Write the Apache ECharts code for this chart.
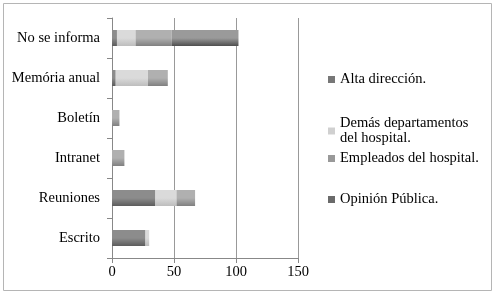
<!DOCTYPE html>
<html><head><meta charset="utf-8">
<script src="https://cdn.jsdelivr.net/npm/echarts@6/dist/echarts.min.js"></script>
<style>html,body{margin:0;padding:0;background:#fff}#c{width:496px;height:295px}</style>
</head><body><div id="c"></div>
<script>
var categories = ['No se informa','Memória anual','Boletín','Intranet','Reuniones','Escrito'];
var seriesNames = ['Alta dirección.','Demás departamentos del hospital.','Empleados del hospital.','Opinión Pública.'];
var altaDireccion = [4, 3, 0, 0, 35, 27];
var demasDepartamentos = [15, 26, 0, 0, 17, 3];
var empleados = [29, 16, 6, 10, 15, 0];
var opinionPublica = [54, 0, 0, 0, 0, 0];
var xTicks = {min: 0, max: 150, interval: 50};

var FONT = 'Liberation Serif';
function grad(a, b) {
  return new echarts.graphic.LinearGradient(0, 0, 0, 1, [{offset: 0, color: a}, {offset: 0.5, color: a}, {offset: 1, color: b}]);
}
var colors = [grad('#8c8c8c', '#5c5c5c'), grad('#dadada', '#bdbdbd'), grad('#b0b0b0', '#808080'), grad('#9a9a9a', '#4e4e4e')];
var legendColors = ['#777', '#d0d0d0', '#999', '#6a6a6a'];
var allData = [altaDireccion, demasDepartamentos, empleados, opinionPublica];
var legendTops = [67, 111, 146, 187];
var legendLabels = ['Alta dirección.', 'Demás departamentos\ndel hospital.', 'Empleados del hospital.', 'Opinión Pública.'];

var chart = echarts.init(document.getElementById('c'), null, {renderer: 'canvas'});
var series = seriesNames.map(function (n, i) {
  return {
    name: n, type: 'bar', stack: 'total', barWidth: 16,
    data: allData[i].map(function (v) { return v === 0 ? null : v; }),
    itemStyle: {color: colors[i]},
    emphasis: {disabled: true}
  };
});
var legends = seriesNames.map(function (n, i) {
  return {
    data: [{name: n, itemStyle: {color: legendColors[i]}}],
    left: 323, top: legendTops[i], orient: 'vertical',
    itemWidth: 7, itemHeight: 7, itemGap: 4, icon: 'rect',
    textStyle: {fontFamily: FONT, fontSize: 14.5, color: '#000', lineHeight: 15},
    formatter: function () { return legendLabels[i]; },
    selectedMode: false
  };
});
chart.setOption({
  animation: false,
  graphic: [{type: 'rect', shape: {x: 3.5, y: 3.5, width: 488, height: 287}, style: {fill: 'none', stroke: '#b5b5b5', lineWidth: 1}, silent: true}],
  grid: {left: 112, right: 198, top: 18, bottom: 37},
  legend: legends,
  xAxis: {
    type: 'value', min: xTicks.min, max: xTicks.max, interval: xTicks.interval,
    axisLine: {show: true, lineStyle: {color: '#888'}},
    axisTick: {show: true, length: 5, lineStyle: {color: '#888'}},
    splitLine: {show: true, lineStyle: {color: '#999', width: 1}},
    axisLabel: {fontFamily: FONT, fontSize: 14.5, color: '#000', margin: 7}
  },
  yAxis: {
    type: 'category', data: categories, inverse: true,
    axisLine: {show: true, lineStyle: {color: '#888'}},
    axisTick: {show: true, length: 5, lineStyle: {color: '#888'}},
    axisLabel: {fontFamily: FONT, fontSize: 14.5, color: '#000', margin: 12}
  },
  series: series
});
</script></body></html>
